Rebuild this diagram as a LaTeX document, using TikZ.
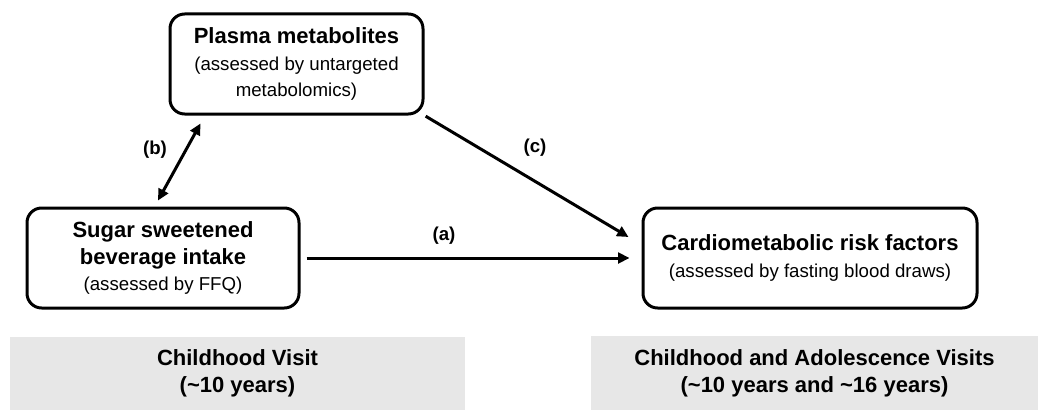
\documentclass[tikz,border=0pt]{standalone}
\usepackage{fontspec}
\setmainfont{Liberation Sans}
\usetikzlibrary{arrows.meta}

\definecolor{bandgray}{RGB}{231,231,231}
\newcommand{\headfont}{\fontsize{16.5}{20}\selectfont\bfseries}
\newcommand{\subfont}{\fontsize{14}{20}\selectfont}

\tikzset{every picture/.style={line width=2.25pt}}
\tikzset{
  box/.style={draw, rounded corners=11pt, align=center, inner sep=0pt, font=\subfont},
  band/.style={fill=bandgray, draw=none, align=center, inner sep=0pt, font=\headfont},
  arr/.style={-{Triangle[length=8.5pt,width=8pt]}},
  dblarr/.style={{Triangle[length=8.5pt,width=8pt]}-{Triangle[length=8.5pt,width=8pt]}},
  lab/.style={font=\fontsize{14}{17}\selectfont\bfseries}
}

\begin{document}
\begin{tikzpicture}[x=0.75pt,y=0.75pt,yscale=-1,xscale=1]
    \useasboundingbox (0,0) rectangle (1038,410);

    %Boxes
    \node [box, minimum width=189.75pt, minimum height=75pt] (plasma) at (296.5,64)
      {{\headfont Plasma metabolites}\\(assessed by untargeted\\metabolomics)};
    \node [box, minimum width=204pt, minimum height=75pt] (ssb) at (163,258)
      {{\headfont Sugar sweetened}\\{\headfont beverage intake}\\(assessed by FFQ)};
    \node [box, minimum width=250.5pt, minimum height=75pt] (cardio) at (810,258)
      {{\headfont Cardiometabolic risk factors}\\(assessed by fasting blood draws)};

    %Visit bands
    \node [band, minimum width=341.25pt, minimum height=54.75pt] (childvisit) at (237.5,373.5)
      {Childhood Visit\\(\textasciitilde 10 years)};
    \node [band, minimum width=335.25pt, minimum height=55.5pt] (bothvisits) at (814.5,373)
      {Childhood and Adolescence Visits\\(\textasciitilde 10 years and \textasciitilde 16 years)};

    %Paths
    \draw [arr, shorten <=4.5pt, shorten >=9pt] (ssb.east) -- (cardio.west);
    \draw [arr, shorten <=1pt] (plasma.south east) -- ([xshift=-9.75pt,yshift=-15.75pt]cardio.west);
    \draw [dblarr] ([xshift=24pt,yshift=6pt]plasma.south west) -- ([xshift=-3.75pt,yshift=-4.5pt]ssb.north);

    %Path labels
    \node [lab] (la) at (444,236) {(a)};
    \node [lab] (lb) at (155,150) {(b)};
    \node [lab] (lc) at (535,148) {(c)};

\end{tikzpicture}
\end{document}
